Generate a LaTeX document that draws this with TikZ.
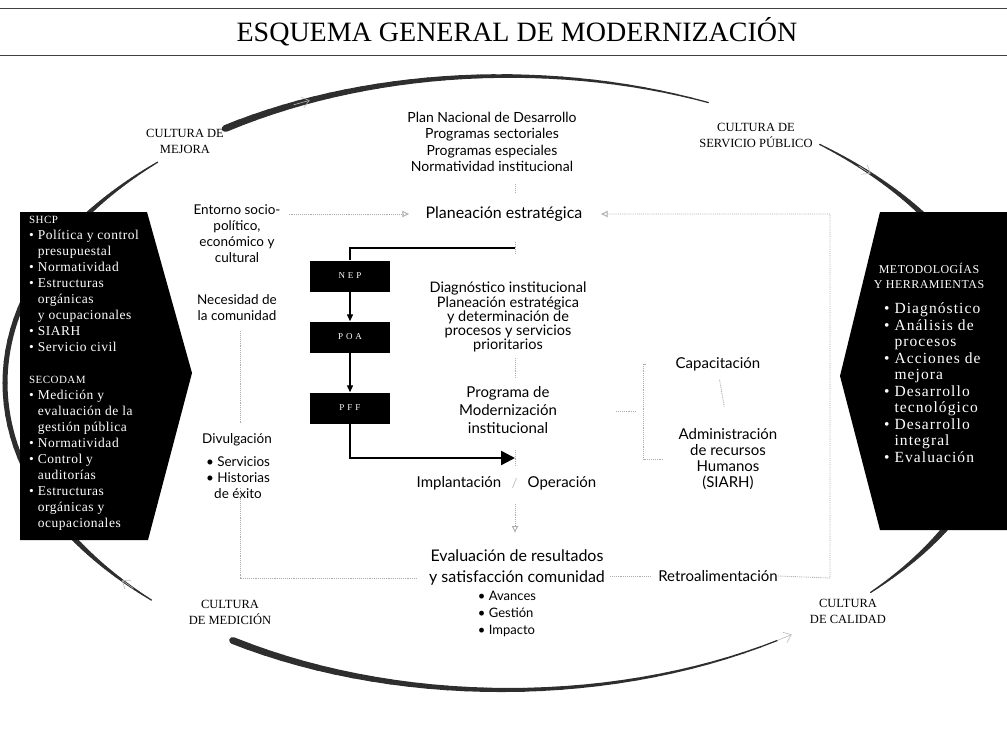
\documentclass[tikz,border=0pt]{standalone}
\usepackage{fontspec}
\setmainfont{Liberation Serif}
\newfontfamily\optf{Lato}
\newfontfamily\boxf[LetterSpace=4]{Liberation Serif}
\newfontfamily\boxwf[LetterSpace=7]{Liberation Serif}
\usetikzlibrary{arrows.meta,calc}

% one tapered piece of the outer ring: start angle, end angle, start width, end width
\newcommand\ringseg[4]{%
  \foreach \k in {0,...,29}{%
    \pgfmathsetmacro\angA{#1+(#2-#1)*\k/30}%
    \pgfmathsetmacro\angB{#1+(#2-#1)*(\k+1)/30}%
    \pgfmathsetmacro\rw{#3+(#4-#3)*(\k+0.5)/30}%
    \draw[ring, line width=\rw pt]
      ({505+500*cos(\angA)},{383+307*sin(\angA)}) --
      ({505+500*cos(\angB)},{383+307*sin(\angB)});
  }}
% light chevron on the ring at a given angle, pointing towards angle #2
\newcommand\ringchev[2]{%
  \draw[gray!55, line width=0.6pt, -{Straight Barb[length=7pt,width=11pt]}]
    ({505+500*cos(#1)},{383+307*sin(#1)}) --
    ({505+500*cos(#2)},{383+307*sin(#2)});}
\newcommand\bul{\textbullet\ }
\newcommand\itemind{\phantom{\textbullet\ }}

\begin{document}
\begin{tikzpicture}[x=1pt,y=-1pt,
  body/.style={font=\optf\fontsize{14}{16.5}\selectfont, align=center, inner sep=0pt},
  side/.style={font=\optf\fontsize{13.5}{16}\selectfont, align=center, inner sep=0pt},
  capl/.style={font=\fontsize{12.5}{16}\selectfont, align=center, inner sep=0pt},
  boxt/.style={text=white, align=left, inner sep=0pt, anchor=north west,
               font=\boxf\fontsize{13.5}{16}\selectfont},
  fbox/.style={fill=black, text=white, minimum width=80pt, minimum height=31pt,
               inner sep=0pt, font=\fontsize{9}{10}\selectfont},
  conn/.style={gray!65, densely dotted, line width=0.9pt},
  garr/.style={-{Latex[open,length=7pt,width=7pt]}},
  flow/.style={black, line width=1.3pt},
  ring/.style={black!82, line cap=round}]
\useasboundingbox (0,0) rectangle (1007,736);

% title and rules
\draw[black!75, line width=1pt] (0,8) -- (1007,8);
\draw[black!75, line width=1pt] (0,55) -- (1007,55);
\node[font=\fontsize{28}{30}\selectfont, inner sep=0pt] (title) at (517,32)
  {ESQUEMA GENERAL DE MODERNIZACIÓN};

% outer ring of cultures
\ringseg{-124}{-66}{7}{1.2}
\ringseg{-51}{-25}{1.2}{7}
\ringseg{25}{43}{7}{1.2}
\ringseg{57}{123}{1.2}{7}
\ringseg{135}{155}{1.2}{6.5}
\ringseg{150}{210}{5}{5}
\ringseg{205}{226}{6.5}{1.2}
\ringchev{-115}{-113}
\ringchev{-45}{-43}
\ringchev{57}{55}
\ringchev{138}{140}

% black side panels
\fill[black] (20,212) -- (147,212) -- (192,373) -- (148,540) -- (20,540) -- cycle;
\fill[black] (880,212) -- (1007,212) -- (1007,530) -- (880,530) -- (840,376) -- cycle;

\node[boxt] (shcp) at (29,216) {{\fontsize{11}{16}\selectfont SHCP}\\
  \bul Política y control\\
  \itemind presupuestal\\
  \bul Normatividad\\
  \bul Estructuras\\
  \itemind orgánicas\\
  \itemind y ocupacionales\\
  \bul SIARH\\
  \bul Servicio civil\\[16pt]
  {\fontsize{11}{16}\selectfont SECODAM}\\
  \bul Medición y\\
  \itemind evaluación de la\\
  \itemind gestión pública\\
  \bul Normatividad\\
  \bul Control y\\
  \itemind auditorías\\
  \bul Estructuras\\
  \itemind orgánicas y\\
  \itemind ocupacionales};

\node[capl, text=white, font=\boxf\fontsize{12}{15}\selectfont] (metod) at (929,276)
  {METODOLOGÍAS\\Y HERRAMIENTAS};
\node[boxt, font=\boxwf\fontsize{15.5}{16.5}\selectfont] (herr) at (884,303) {\bul Diagnóstico\\
  \bul Análisis de\\
  \itemind procesos\\
  \bul Acciones de\\
  \itemind mejora\\
  \bul Desarrollo\\
  \itemind tecnológico\\
  \bul Desarrollo\\
  \itemind integral\\
  \bul Evaluación};

% culture labels
\node[capl] (cmej) at (185,141) {CULTURA DE\\MEJORA};
\node[capl] (cserv) at (756,135) {CULTURA DE\\SERVICIO PÚBLICO};
\node[capl] (cmed) at (230,612) {CULTURA\\DE MEDICIÓN};
\node[capl] (ccal) at (848,611) {CULTURA\\DE CALIDAD};

% central column
\coordinate (axis) at (515,0);
\node[body] (pnd) at (492,142) {Plan Nacional de Desarrollo\\Programas sectoriales\\Programas especiales\\Normatividad institucional};
\node[body, font=\optf\fontsize{16}{20}\selectfont] (plane) at (504,214) {Planeación estratégica};
\node[body, font=\optf\fontsize{14.5}{12.5}\selectfont] (diag) at (508,317)
  {Diagnóstico institucional\\Planeación estratégica\\y determinación de\\procesos y servicios\\prioritarios};
\node[body, font=\optf\fontsize{15}{18}\selectfont] (prog) at (508,410) {Programa de\\Modernización\\institucional};
\node[body, font=\optf\fontsize{15}{18}\selectfont] (impl) at (459,483) {Implantación};
\node[body, font=\optf\fontsize{15}{18}\selectfont] (oper) at (562,483) {Operación};
\node[body, font=\optf\fontsize{16}{21}\selectfont] (evalnode) at (517,567) {Evaluación de resultados\\y satisfacción comunidad};
\node[body, align=left, font=\optf\fontsize{13}{17}\selectfont] (indic) at (507,614) {\bul Avances\\\bul Gestión\\\bul Impacto};

% left column
\node[side] (entorno) at (237,234) {Entorno socio-\\político,\\económico y\\cultural};
\node[side] (neces) at (237,308) {Necesidad de\\la comunidad};
\node[side] (divul) at (237,440) {Divulgación};
\node[side] (divb) at (238,478) {\bul Servicios\\\bul Historias\\de éxito};

% right column
\node[body, font=\optf\fontsize{15}{16}\selectfont] (capac) at (718,364) {Capacitación};
\node[body, font=\optf\fontsize{15}{16}\selectfont] (admin) at (728,459) {Administración\\de recursos\\Humanos\\(SIARH)};
\node[body, font=\optf\fontsize{15}{16}\selectfont] (retro) at (718,576) {Retroalimentación};

% program boxes
\node[fbox] (nep) at (350,276) {N\,\,E\,\,P};
\node[fbox] (poa) at (350,337) {P\,\,O\,\,A};
\node[fbox] (pff) at (350,408) {P\,\,F\,\,F};

% solid flow
\coordinate (ftop) at (515,248);
\coordinate (fend) at (515,458);
\draw[flow] (ftop) -- (ftop -| nep) -- (nep.north);
\draw[flow, -{Triangle[length=7pt,width=6pt]}] (nep) -- (poa);
\draw[flow, -{Triangle[length=7pt,width=6pt]}] (poa) -- (pff);
\draw[flow, line width=2.4pt, -{Triangle[length=14pt,width=14pt]}] (pff.south) |- (fend);

% dotted links
\draw[conn, garr] ([xshift=8pt]entorno.east |- plane.west) -- ([xshift=-16pt]plane.west);
\coordinate (loopR) at (830,578);
\draw[conn, garr] (retro.east) -- (loopR) |- ([xshift=18pt]plane.east);
\draw[conn, shorten <=5pt, shorten >=8pt] (evalnode.east |- retro) -- (retro.west);
\coordinate (loopL) at (240,578);
\draw[conn] ([xshift=-12pt]evalnode.west |- loopL) -- (loopL) -- ([yshift=12pt]divb.south -| loopL);
\draw[conn, shorten <=10pt, shorten >=10pt] (neces.south -| loopL) -- (divul.north -| loopL);
\draw[conn, shorten <=12pt, shorten >=13pt] (pnd.south -| axis) -- (plane.north -| axis);
\draw[conn] ([yshift=-6pt]ftop) -- ([yshift=6pt]ftop);
\draw[conn, shorten <=6pt, shorten >=8pt] (diag.south -| axis) -- (prog.north -| axis);
\draw[conn] ([yshift=-8pt]fend) -- ([yshift=8pt]fend);
\draw[conn, garr, shorten <=14pt, shorten >=16pt] (impl.south -| axis) -- (evalnode.north -| axis);
\draw[gray!60, line width=0.6pt] ($(impl.east)!0.5!(oper.west)+(-2,5)$) -- ($(impl.east)!0.5!(oper.west)+(2,-5)$);
\draw[conn, shorten <=9pt, shorten >=22pt] (capac.south) -- (admin.north);
\draw[conn] ([xshift=-30pt]capac.west) -| ([xshift=-35pt]admin.west) -- ([xshift=-16pt]admin.west);
\coordinate (brmid) at ($(capac.west)!0.5!(admin.west)$);
\draw[conn] ([xshift=-41pt]brmid) -- ([xshift=-61pt]brmid);
\end{tikzpicture}
\end{document}
